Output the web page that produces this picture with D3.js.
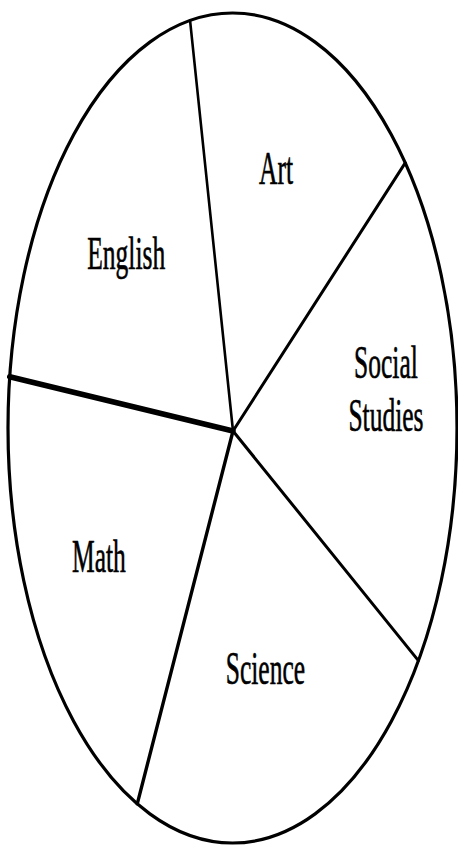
<!DOCTYPE html>
<html>
<head>
<meta charset="utf-8">
<script src="https://cdn.jsdelivr.net/npm/d3@7"></script>
<style>
  html, body { margin: 0; padding: 0; background: #fff; }
  svg { display: block; }
</style>
</head>
<body>
<svg id="chart" width="458" height="846"></svg>
<script>
// ---- data ----
const subjects = ["Art", "Social Studies", "Science", "Math", "English"];
const shares   = [17, 20.5, 22.5, 20, 20];
const labelLines = [["Art"], ["Social", "Studies"], ["Science"], ["Math"], ["English"]];

// ---- layout / style (separate from data) ----
const W = 458, H = 846;
const ellipse = { cx: 232.5, cy: 428, rx: 224.5, ry: 415 };
const hub = { x: 233, y: 431 };
const startDeg = -10.9;
// spoke stroke width at the start of each slice (index-aligned with subjects)
const spokeWidth = [2.6, 3.0, 3.0, 3.4, 5.5];
// label placement: radial fraction and small angular nudge (deg) from slice mid
const labelR     = [0.656, 0.69, 0.597, 0.67, 0.634];
const labelNudge = [-2.5, -5.0, 1.2, 1.5, -1.4];
const fontSize = 25.5, stretch = 1.86, lineGap = 28.4;

const svg = d3.select("#chart");
svg.append("rect").attr("width", W).attr("height", H).attr("fill", "#fff");

const x = d3.scaleLinear().domain([-1, 1]).range([ellipse.cx - ellipse.rx, ellipse.cx + ellipse.rx]);
const y = d3.scaleLinear().domain([-1, 1]).range([ellipse.cy - ellipse.ry, ellipse.cy + ellipse.ry]);

const start = startDeg * Math.PI / 180;
const pie = d3.pie().sort(null).value(d => d.v)
  .startAngle(start).endAngle(start + 2 * Math.PI);
const slices = pie(subjects.map((s, i) => ({ name: s, v: shares[i], i })));

// outline
svg.append("ellipse")
  .attr("cx", x(0)).attr("cy", y(0))
  .attr("rx", x(1) - x(0)).attr("ry", y(1) - y(0))
  .attr("fill", "none").attr("stroke", "#000").attr("stroke-width", 3.2);

// spokes
svg.append("g").selectAll("line").data(slices).join("line")
  .attr("x1", hub.x).attr("y1", hub.y)
  .attr("x2", d => x(d3.pointRadial(d.startAngle, 1)[0]))
  .attr("y2", d => y(d3.pointRadial(d.startAngle, 1)[1]))
  .attr("stroke", "#000")
  .attr("stroke-width", d => spokeWidth[d.data.i])
  .attr("stroke-linecap", "round");

// labels
const capH = 0.662 * fontSize;
const lg = svg.append("g");
slices.forEach(d => {
  const i = d.data.i;
  const mid = (d.startAngle + d.endAngle) / 2 + labelNudge[i] * Math.PI / 180;
  const p = d3.pointRadial(mid, labelR[i]);
  const px = x(p[0]), py = y(p[1]);
  const lines = labelLines[i];
  const blockH = capH * stretch + (lines.length - 1) * lineGap * stretch;
  const firstBaseline = py - blockH / 2 + capH * stretch;
  lines.forEach((ln, k) => {
    lg.append("text")
      .attr("transform", `translate(${px},${firstBaseline + k * lineGap * stretch}) scale(1,${stretch})`)
      .attr("text-anchor", "middle")
      .attr("font-family", "'Liberation Serif', 'DejaVu Serif', serif")
      .attr("font-size", fontSize)
      .attr("fill", "#000")
      .attr("stroke", "#000")
      .attr("stroke-width", 0.35)
      .text(ln);
  });
});
</script>
</body>
</html>
